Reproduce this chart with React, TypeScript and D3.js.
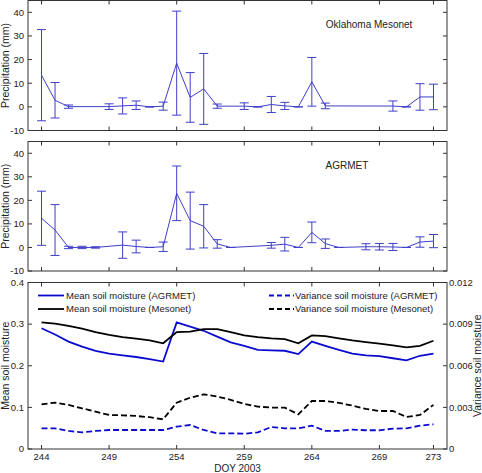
import React from "react";
import * as d3 from "d3";

// ---- Data ----
const xTicks = [244, 249, 254, 259, 264, 269, 273];
const precipTicks = [-10, 0, 10, 20, 30, 40];
const smTicksL = [0, 0.1, 0.2, 0.3, 0.4];
const smTicksR = [0, 0.003, 0.006, 0.009, 0.012];
const smTickLabelsL = ["0", "0.1", "0.2", "0.3", "0.4"];
const smTickLabelsR = ["0", "0.003", "0.006", "0.009", "0.012"];

// Oklahoma Mesonet precipitation: day, mean, std
const mesoDays = [244, 245, 246, 249, 250, 251, 252, 253, 254, 255, 256, 257, 259, 260, 261, 262, 263, 264, 265, 270, 271, 272, 273];
const mesoMean = [13.4, 2.8, 0.1, 0.1, 0.4, 0.7, 0, 0.3, 18.5, 4.0, 7.6, 0.3, 0.3, 0, 1.0, 0.4, 0, 10.6, 0.4, 0.35, 0, 4.2, 4.2];
const mesoStd = [19.3, 7.5, 0.7, 1.2, 3.4, 1.8, 0, 1.7, 22.0, 10.5, 15.0, 0.9, 1.4, 0, 3.4, 1.5, 0, 10.3, 1.2, 2.15, 0, 5.6, 5.4];

// AGRMET precipitation: day, mean, std
const agrDays = [244, 245, 246, 247, 248, 250, 251, 252, 253, 254, 255, 256, 257, 258, 261, 262, 263, 264, 265, 266, 268, 269, 270, 271, 272, 273];
const agrMean = [12.4, 7.4, 0, 0, 0, 1.0, 0.4, 0, 0.3, 23.0, 11.4, 9.0, 1.5, 0, 0.9, 1.4, 0, 6.4, 1.6, 0, 0.3, 0.3, 0.2, 0, 2.3, 2.7];
const agrStd = [11.5, 10.8, 0.5, 0.5, 0.3, 5.6, 2.7, 0, 2.0, 11.6, 12.1, 9.2, 1.8, 0, 1.2, 2.9, 0, 4.4, 2.0, 0, 1.3, 1.4, 1.5, 0, 2.2, 2.8];

// Soil moisture, days 244..273
const smDays = d3.range(244, 274);
const meanAgr = [0.290, 0.275, 0.258, 0.246, 0.236, 0.229, 0.225, 0.221, 0.216, 0.210, 0.304, 0.294, 0.284, 0.270, 0.256, 0.248, 0.238, 0.237, 0.236, 0.228, 0.258, 0.248, 0.238, 0.229, 0.225, 0.223, 0.218, 0.213, 0.224, 0.229];
const meanMes = [0.304, 0.301, 0.296, 0.289, 0.281, 0.274, 0.269, 0.265, 0.261, 0.254, 0.281, 0.282, 0.288, 0.288, 0.281, 0.273, 0.269, 0.266, 0.264, 0.254, 0.273, 0.271, 0.266, 0.261, 0.257, 0.253, 0.249, 0.244, 0.248, 0.260];
const varAgr = [0.00149, 0.00149, 0.00130, 0.00120, 0.00130, 0.00137, 0.00137, 0.00137, 0.00137, 0.00137, 0.00161, 0.00173, 0.00137, 0.00113, 0.00113, 0.00110, 0.00120, 0.00159, 0.00149, 0.00149, 0.00168, 0.00130, 0.00130, 0.00140, 0.00135, 0.00135, 0.00147, 0.00149, 0.00168, 0.00178];
const varMes = [0.00322, 0.00334, 0.00318, 0.00293, 0.00269, 0.00245, 0.00243, 0.00238, 0.00229, 0.00214, 0.00334, 0.00370, 0.00394, 0.00378, 0.00354, 0.00325, 0.00306, 0.00298, 0.00298, 0.00250, 0.00346, 0.00346, 0.00332, 0.00313, 0.00289, 0.00274, 0.00274, 0.00231, 0.00245, 0.00318];

// ---- Layout ----
const W = 482;
const H = 473;
const FONT = "'Liberation Sans', Arial, sans-serif";
const AX = "#333";
const TXT = "#222";
const PBLUE = "#3f3fc9";
const BLUE = "#0b0bd0";

const x = d3.scaleLinear().domain([243, 274]).range([28, 447]);
const yTop = d3.scaleLinear().domain([-10, 45]).range([130.5, 0.5]);
const yMid = d3.scaleLinear().domain([-10, 45]).range([271, 141.5]);
const yBL = d3.scaleLinear().domain([0, 0.4]).range([449, 282.5]);
const yBR = d3.scaleLinear().domain([0, 0.012]).range([449, 282.5]);

const TL = 4;

function Box({ y, rightTicks }: { y: d3.ScaleLinear<number, number>; rightTicks?: number[] }) {
  const [y0, y1] = y.range();
  const x0 = x.range()[0];
  const x1 = x.range()[1];
  return (
    <g stroke={AX} strokeWidth={1} fill="none">
      <rect x={x0} y={y1} width={x1 - x0} height={y0 - y1} />
      {xTicks.map((t) => (
        <g key={"x" + t}>
          <line x1={x(t)} x2={x(t)} y1={y0} y2={y0 - TL} />
          <line x1={x(t)} x2={x(t)} y1={y1} y2={y1 + TL} />
        </g>
      ))}
    </g>
  );
}

function YTicks({ y, ticks, side }: { y: d3.ScaleLinear<number, number>; ticks: number[]; side: "left" | "right" | "both" }) {
  const x0 = x.range()[0];
  const x1 = x.range()[1];
  return (
    <g stroke={AX} strokeWidth={1}>
      {ticks.map((t) => (
        <g key={t}>
          {side !== "right" && <line x1={x0} x2={x0 + TL} y1={y(t)} y2={y(t)} />}
          {side !== "left" && <line x1={x1} x2={x1 - TL} y1={y(t)} y2={y(t)} />}
        </g>
      ))}
    </g>
  );
}

function ErrPanel({ y, days, mean, std }: { y: d3.ScaleLinear<number, number>; days: number[]; mean: number[]; std: number[] }) {
  const pts = days.map((d, i) => [x(d), y(mean[i])] as [number, number]);
  const line = d3.line()(pts) || "";
  const cw = 4.5;
  return (
    <g stroke={PBLUE} strokeWidth={1} fill="none">
      <path d={line} />
      {days.map((d, i) => {
        const cx = x(d);
        const lo = y(mean[i] - std[i]);
        const hi = y(mean[i] + std[i]);
        return (
          <g key={d}>
            <line x1={cx} x2={cx} y1={lo} y2={hi} />
            <line x1={cx - cw} x2={cx + cw} y1={lo} y2={lo} />
            <line x1={cx - cw} x2={cx + cw} y1={hi} y2={hi} />
          </g>
        );
      })}
    </g>
  );
}

export default function App() {
  const lineL = d3.line<number>().x((_, i) => x(smDays[i])).y((v) => yBL(v));
  const lineR = d3.line<number>().x((_, i) => x(smDays[i])).y((v) => yBR(v));
  const tickFont = 9.5;
  return (
    <svg width={W} height={H} style={{ position: "absolute", left: 0, top: 0, background: "#fff" }} fontFamily={FONT}>
      <rect width={W} height={H} fill="#fff" />
      {/* Top panel */}
      <ErrPanel y={yTop} days={mesoDays} mean={mesoMean} std={mesoStd} />
      <Box y={yTop} />
      <YTicks y={yTop} ticks={precipTicks} side="both" />
      {precipTicks.map((t) => (
        <text key={"tt" + t} x={24} y={yTop(t)} dy="0.35em" textAnchor="end" fontSize={tickFont} fill={TXT}>
          {t}
        </text>
      ))}
      <text transform={`translate(9,${(yTop.range()[0] + yTop.range()[1]) / 2}) rotate(-90)`} textAnchor="middle" fontSize={10.5} fill={TXT}>
        Precipitation (mm)
      </text>
      <text x={369} y={27.5} textAnchor="middle" fontSize={10} fill={TXT}>
        Oklahoma Mesonet
      </text>

      {/* Middle panel */}
      <ErrPanel y={yMid} days={agrDays} mean={agrMean} std={agrStd} />
      <Box y={yMid} />
      <YTicks y={yMid} ticks={precipTicks} side="both" />
      {precipTicks.map((t) => (
        <text key={"mt" + t} x={24} y={yMid(t)} dy="0.35em" textAnchor="end" fontSize={tickFont} fill={TXT}>
          {t}
        </text>
      ))}
      <text transform={`translate(9,${(yMid.range()[0] + yMid.range()[1]) / 2}) rotate(-90)`} textAnchor="middle" fontSize={10.5} fill={TXT}>
        Precipitation (mm)
      </text>
      <text x={347} y={168.5} textAnchor="middle" fontSize={10} fill={TXT}>
        AGRMET
      </text>

      {/* Bottom panel */}
      <g fill="none" strokeWidth={1.8}>
        <path d={lineL(meanAgr) || ""} stroke={BLUE} />
        <path d={lineL(meanMes) || ""} stroke="#000" />
        <path d={lineR(varAgr) || ""} stroke={BLUE} strokeDasharray="6,3" />
        <path d={lineR(varMes) || ""} stroke="#000" strokeDasharray="6,3" />
      </g>
      <Box y={yBL} />
      <YTicks y={yBL} ticks={smTicksL} side="left" />
      <YTicks y={yBR} ticks={smTicksR} side="right" />
      {smTicksL.map((t, i) => (
        <text key={"bl" + t} x={24} y={yBL(t)} dy="0.35em" textAnchor="end" fontSize={tickFont} fill={TXT}>
          {smTickLabelsL[i]}
        </text>
      ))}
      {smTicksR.map((t, i) => (
        <text key={"br" + t} x={449} y={yBR(t)} dy="0.35em" textAnchor="start" fontSize={tickFont} fill={TXT}>
          {smTickLabelsR[i]}
        </text>
      ))}
      {xTicks.map((t) => (
        <text key={"bx" + t} x={x(t)} y={460} textAnchor="middle" fontSize={tickFont} fill={TXT}>
          {t}
        </text>
      ))}
      <text x={237.5} y={471.5} textAnchor="middle" fontSize={10} fill={TXT}>
        DOY 2003
      </text>
      <text transform={`translate(9,${(yBL.range()[0] + yBL.range()[1]) / 2}) rotate(-90)`} textAnchor="middle" fontSize={10.5} fill={TXT}>
        Mean soil moisture
      </text>
      <text transform={`translate(481,${(yBR.range()[0] + yBR.range()[1]) / 2}) rotate(-90)`} textAnchor="middle" fontSize={10.5} fill={TXT}>
        Variance soil moisture
      </text>

      {/* Legends */}
      <g strokeWidth={1.8}>
        <line x1={38} x2={64} y1={295.5} y2={295.5} stroke={BLUE} />
        <line x1={38} x2={64} y1={309} y2={309} stroke="#000" />
        <line x1={269} x2={294} y1={295.5} y2={295.5} stroke={BLUE} strokeDasharray="5,3" />
        <line x1={269} x2={294} y1={309} y2={309} stroke="#000" strokeDasharray="5,3" />
      </g>
      <g fontSize={9.5} fill={TXT}>
        <text x={66} y={295.5} dy="0.35em">Mean soil moisture (AGRMET)</text>
        <text x={66} y={309} dy="0.35em">Mean soil moisture (Mesonet)</text>
        <text x={295} y={295.5} dy="0.35em">Variance soil moisture (AGRMET)</text>
        <text x={295} y={309} dy="0.35em">Variance soil moisture (Mesonet)</text>
      </g>
    </svg>
  );
}
